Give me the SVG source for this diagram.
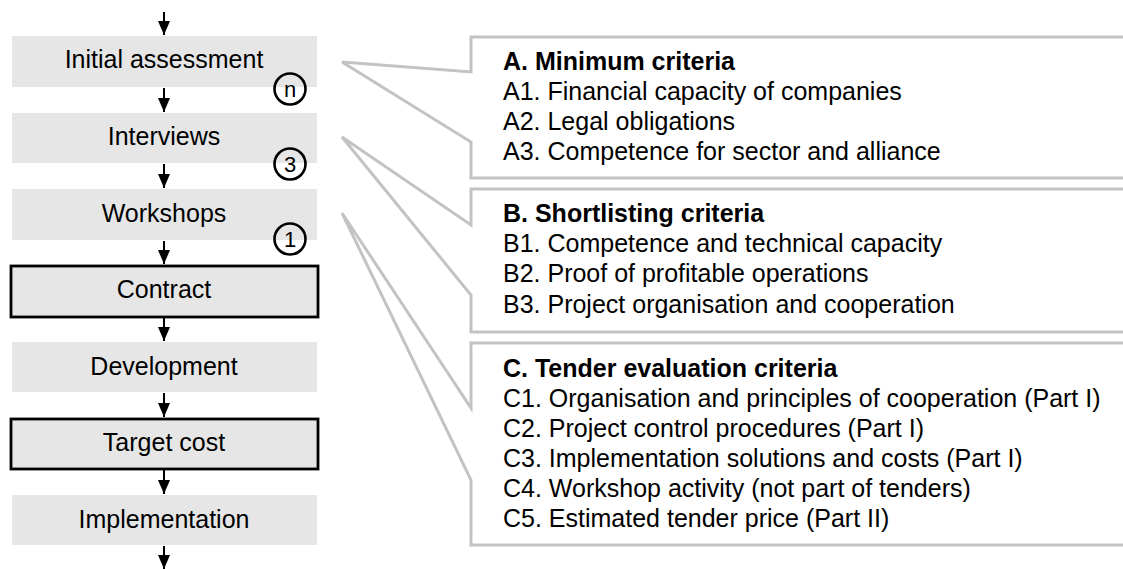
<svg xmlns="http://www.w3.org/2000/svg" width="1123" height="569" viewBox="0 0 1123 569">
<style>
text{font-family:"Liberation Sans",Arial,sans-serif;font-size:25px;fill:#000}
.node{fill:#e6e6e6}
.strong{fill:#e6e6e6;stroke:#000;stroke-width:2.8}
.lbl{text-anchor:middle}
.circ{fill:none;stroke:#000;stroke-width:2.6}
.ctext{text-anchor:middle;font-size:22px}
.arrow{stroke:#000;stroke-width:2;fill:none;marker-end:url(#ah)}
.callout{fill:#fff;stroke:#c3c3c3;stroke-width:3;stroke-linejoin:miter}
.hd{font-weight:bold}
</style>
<defs>
<marker id="ah" markerUnits="userSpaceOnUse" markerWidth="14" markerHeight="12" refX="14" refY="6" orient="auto">
<path d="M0,0 L14,6 L0,12 z" fill="#000"/>
</marker>
</defs>
<rect width="1123" height="569" fill="#fff"/>
<g id="connectors">
<line class="arrow" x1="164" y1="12" x2="164" y2="35"/>
<line class="arrow" x1="164" y1="88" x2="164" y2="112"/>
<line class="arrow" x1="164" y1="164" x2="164" y2="188"/>
<line class="arrow" x1="164" y1="241" x2="164" y2="264"/>
<line class="arrow" x1="164" y1="318" x2="164" y2="341"/>
<line class="arrow" x1="164" y1="393" x2="164" y2="417"/>
<line class="arrow" x1="164" y1="470" x2="164" y2="494"/>
<line class="arrow" x1="164" y1="546" x2="164" y2="569"/>
</g>
<g id="n1"><rect class="node" x="12" y="36" width="305" height="51"/><text class="lbl" x="164" y="68">Initial assessment</text></g>
<g id="n2"><rect class="node" x="12" y="113" width="305" height="50"/><text class="lbl" x="164" y="145">Interviews</text></g>
<g id="n3"><rect class="node" x="12" y="189" width="305" height="51"/><text class="lbl" x="164" y="222">Workshops</text></g>
<g id="n4"><rect class="strong" x="11" y="266" width="307" height="51"/><text class="lbl" x="164" y="298">Contract</text></g>
<g id="n5"><rect class="node" x="12" y="342" width="305" height="50"/><text class="lbl" x="164" y="375">Development</text></g>
<g id="n6"><rect class="strong" x="11" y="419" width="307" height="50"/><text class="lbl" x="164" y="451">Target cost</text></g>
<g id="n7"><rect class="node" x="12" y="495" width="305" height="50"/><text class="lbl" x="164" y="528">Implementation</text></g>
<g id="badge-n"><circle class="circ" cx="290" cy="89" r="15.5"/><text class="ctext" x="290" y="97">n</text></g>
<g id="badge-3"><circle class="circ" cx="290" cy="164" r="15.5"/><text class="ctext" x="290" y="172">3</text></g>
<g id="badge-1"><circle class="circ" cx="290" cy="239" r="15.5"/><text class="ctext" x="290" y="247">1</text></g>
<g id="calloutA">
<path class="callout" d="M1126 37 H471 V72 L342 62 L471 142 V178 H1126"/>
<text class="hd" x="503" y="70">A. Minimum criteria</text>
<text x="503" y="100">A1. Financial capacity of companies</text>
<text x="503" y="130">A2. Legal obligations</text>
<text x="503" y="160">A3. Competence for sector and alliance</text>
</g>
<g id="calloutB">
<path class="callout" d="M1126 189 H471 V225 L342 137 L471 295 V332 H1126"/>
<text class="hd" x="503" y="222">B. Shortlisting criteria</text>
<text x="503" y="252">B1. Competence and technical capacity</text>
<text x="503" y="282">B2. Proof of profitable operations</text>
<text x="503" y="313">B3. Project organisation and cooperation</text>
</g>
<g id="calloutC">
<path class="callout" d="M1126 343 H471 V408 L342 213 L471 480 V545 H1126"/>
<text class="hd" x="503" y="377">C. Tender evaluation criteria</text>
<text x="503" y="407">C1. Organisation and principles of cooperation (Part I)</text>
<text x="503" y="437">C2. Project control procedures (Part I)</text>
<text x="503" y="467">C3. Implementation solutions and costs (Part I)</text>
<text x="503" y="497">C4. Workshop activity (not part of tenders)</text>
<text x="503" y="527">C5. Estimated tender price (Part II)</text>
</g>
</svg>
